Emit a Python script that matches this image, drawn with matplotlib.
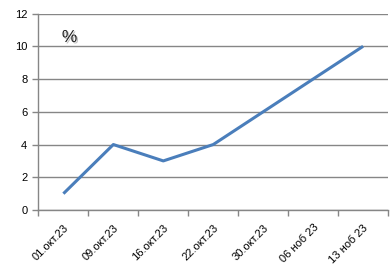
import matplotlib.pyplot as plt
import matplotlib.patheffects as pe

plt.rcParams['font.family'] = ['Liberation Sans', 'DejaVu Sans']

dates = ['01.окт.23', '09.окт.23', '16.окт.23', '22.окт.23', '30.окт.23', '06 ноб 23', '13 ноб 23']
values = [1, 4, 3, 4, 6, 8, 10]

fig = plt.figure(figsize=(3.92, 2.76), dpi=100)
ax = fig.add_axes([0.098, 0.239, 0.892, 0.712])

x = list(range(len(dates)))
ax.plot(x, values, color='#4A7EBB', linewidth=2.2, solid_capstyle='butt', zorder=3)

ax.set_xlim(-0.5, len(dates) - 0.5)
ax.set_ylim(0, 12)
ax.set_yticks(range(0, 13, 2))
ax.yaxis.grid(True, color='#868686', linewidth=1)
ax.set_axisbelow(True)

# category labels at centres, tick marks at boundaries
ax.set_xticks(x)
ax.set_xticklabels(dates, rotation=45, ha='right', rotation_mode='anchor')
ax.set_xticks([i - 0.5 for i in range(len(dates) + 1)], minor=True)
ax.tick_params(axis='x', which='major', length=0, pad=9, labelsize=8)
ax.tick_params(axis='x', which='minor', length=4, color='#868686', width=1)
ax.tick_params(axis='y', length=4, color='#868686', width=1, labelsize=8, pad=4)

for s in ['top', 'right']:
    ax.spines[s].set_visible(False)
for s in ['left', 'bottom']:
    ax.spines[s].set_color('#868686')
    ax.spines[s].set_linewidth(1)

ax.text(0.067, 0.855, '%', transform=ax.transAxes, fontsize=12.5, color='#202020',
        path_effects=[pe.SimplePatchShadow(offset=(1, -1), alpha=0.25), pe.Normal()])

fig.savefig('out.png', dpi=100)
